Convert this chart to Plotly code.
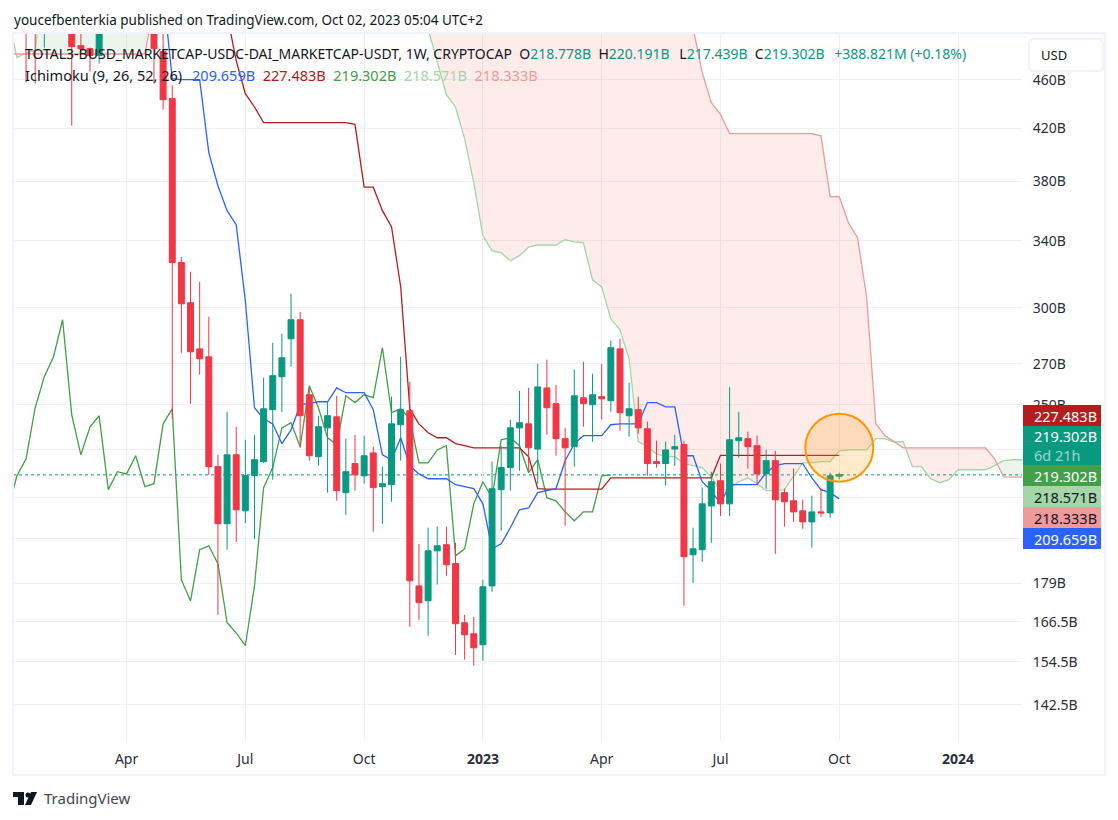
import pandas as pd
import numpy as np
import plotly.graph_objects as go

# weekly bars, 92 on the chart + 25 more for the shifted cloud
weeks = pd.date_range("2022-01-03", periods=117, freq="7D")

opens = [560,545,545,520,510,535,590,560,490.2,487.5,
         481.2,520,590,620,600,570,530,484.8,443.9,326.5,
         302.8,277.7,273.6,222.7,200.1,227.7,205,219,224.8,247.8,
         263.6,283,293.3,254.8,226.9,239.5,244.5,212.1,224,218.9,
         228.5,214.5,215.3,240.9,247.3,178.1,173.2,190.2,192.4,185.7,
         166.2,162.8,159.5,178.1,213.3,222.3,239.5,241.3,230.2,258.1,
         250.6,234.7,231.2,253.4,250.1,253.9,252,277.7,245,247.8,
         239.1,224.8,224,230.2,232.1,188.8,190.6,206.9,216.9,207.7,
         233.8,234.7,231.6,219.7,225.2,212.1,208.9,205,200.8,204.6,
         204.2,218.778]
highs = [600,580,560,560,550,600,605,570,530,488.4,
         540,600,640,650,620,590,550,510,454.9,329.8,
         320.9,314.9,294.9,227.7,246.8,240,234.2,236.4,263.1,280.9,
         285.7,308,297.7,258.1,245,251.5,254.3,234.7,236.4,236,
         231.2,222.7,253.9,273.6,261.1,192.7,198.6,199,199,193.1,
         168.7,168.1,180.1,224.8,231.6,243.2,256.7,258.1,270.1,272.1,
         259.6,239.5,267.1,271.1,265.1,270.1,282,283,260.6,253.9,
         242.3,233.8,233.4,236.4,233.8,198.6,214.1,220.6,224,258.6,
         246.8,237.8,236,229.8,229.4,213.7,221.9,209.3,210.9,214.1,
         220.2,220.191]
lows = [530,530,457.4,456.5,488.4,525,540,422,483.9,466.9,
        474,510,570,580,560,520,456.5,434.8,243.6,275.7,
        250.6,264.6,219.3,168.7,190.6,193.4,200.4,194.5,224.3,217.3,
        246.8,268.6,230.7,225.2,223.1,212.1,208.9,203.5,212.9,215.7,
        197.1,200.1,208.5,225.2,164.9,167.1,162.2,178.5,181.5,156.5,
        155.1,153.3,154.8,176.2,197.5,212.9,221,221,215.7,236.4,
        227.3,199.3,222.7,240,233.4,243.2,246.8,238.2,235.5,236.8,
        218.9,222.3,214.9,223.1,171.6,179.1,186.3,193.1,203,203,
        226.5,221.9,215.7,213.7,189.1,199,200.8,198.2,191.3,202.7,
        202.3,217.439]
closes = [545,548,520,505,535,590,560,489.3,487.5,481.2,
          520,590,620,600,570,530,487.5,443,326.5,302.2,
          276.2,272.6,222.7,200.1,227.7,205.4,219,225.6,248.2,264.1,
          273.1,293.3,245,227.3,240,245,212.9,220.6,219.3,227.3,
          214.1,215.7,241.3,247.8,179.8,172.6,190.2,192,185.3,165.9,
          162.5,158.6,177.8,213.7,222.3,239.5,241.8,230.7,258.6,248.7,
          234.7,230.7,254.3,250.6,254.8,252.9,278.3,246.4,248.2,239.5,
          224,224,229.8,231.2,188.1,190.9,207.7,216.5,207.7,234.2,
          235.1,231.2,219.7,225.2,209.3,208.5,204.6,200.8,204.6,204.2,
          218.9,219.302]

# ichimoku lines, None = not on screen
conversion = [None]*17 + [543,460.9,460,460,460,401.2,377,359.8,350.5,303.9,
              248.7,243.6,241.3,232.5,238.6,250,250.6,251.5,251.5,258.1,
              255.8,255.8,255.8,247.8,227.7,225.6,235.1,223.1,219.7,217.7,
              217.7,217.7,215.3,214.5,213.7,207.7,190.9,192.7,198.6,205.4,
              206.1,212.1,212.9,213.7,225.2,232.5,236,236,236,240.9,
              241.3,241.3,241.3,251.1,251.1,249.1,249.1,227.3,227.3,216.5,
              212.9,207.7,215.3,215.3,215.3,215.3,220.2,223.1,224,224,
              224,218.1,213.3,212.1,209.659]
base = [None]*23 + [560,519.6,476.7,448,437,424.4,424.4,424.4,424.4,424.4,
        424.4,424.4,424.4,424.4,424.4,423,376,376,359.8,349,
        312,248.2,241.3,237.3,235.1,235.1,232.5,231.6,230.7,230.7,
        230.7,230.7,230.7,230.7,226.9,213.7,213.5,213.5,213.5,213.5,
        213.5,213.5,213.5,218.1,218.1,218.1,218.1,218.1,218.1,218.1,
        218.1,218.1,218.1,218.1,218.1,227.483,227.483,227.483,227.483,227.483,
        227.483,227.483,227.483,227.483,227.483,227.483,227.483,227.483,227.483]
lagging = [205,218.9,226,248.7,263.6,273.6,293.3,245.4,227.7,240,
           245,213.3,220.6,219.7,227.3,214.5,215.7,241.3,248.2,180.1,
           173.2,190.6,192,185.7,166.2,163.1,159.2,178.1,214.1,222.3,
           239.5,241.8,231.2,259.1,248.7,235.1,232.1,254.3,251.1,254.8,
           253.4,278.3,246.4,248.2,243.6,224.3,224.3,229.8,231.6,188.4,
           190.9,207.7,216.5,210.1,234.2,235.1,231.6,220.2,225.6,210.1,
           208.9,204.6,201.2,204.6,204.6,218.9,219.302] + [None]*25
# spans run 25 bars past the last candle, the part above the top is only a guess
span_a = [520,479.4,483.5,486.2,560,620,660,680,700,720,
          740,760,780,800,820,840,860,860,850,840,
          830,820,810,800,790,780,770,760,750,740,
          730,720,710,700,690,680,670,660,650,640,
          630,620,610,600,580,548,506,475.8,447.2,437,
          411.9,379.2,343.3,333.8,332.5,327.6,330.7,336,337.4,337.4,
          337.4,340.7,339.4,338.8,316.1,311.8,293.8,287.8,272.6,233.4,
          231.2,228.1,226.9,226.9,224,223.1,222.3,218.5,212.9,213.7,
          216.5,218.1,215.7,212.9,212.9,213.3,218.9,224.3,224.3,224.8,
          224.8,229.4,229.8,229.8,229.8,234.7,234.7,233.2,233.4,222.7,
          222.7,217.7,216.1,217.3,221.4,221.4,221.4,221.4,223.1,225.2,
          225.6,225.6,225.6,225,222,220,218.571]
span_b = [482.6,482.6,482.6,482.6,482.6,482.6,482.6,482.6,482.6,482.6,
          482.6,482.6,482.6,482.6,482.6,482.6,528,600,700,800,
          900,900,900,900,900,900,900,900,900,900,
          900,900,900,900,900,900,900,900,900,900,
          900,900,900,900,900,900,900,900,900,900,
          900,900,900,900,900,900,900,900,900,900,
          900,900,900,900,900,900,900,900,900,900,
          900,720,650,600,555,507,466,440.6,431,415.7,
          415.7,415.7,415.7,415.7,415.7,415.7,415.7,415.7,415.7,414,
          369.4,369.4,351.8,342.1,305.8,241.3,236,233.4,230.7,230.7,
          230.7,230.7,230.7,230.7,230.7,230.7,230.7,230.7,226,218.5,
          218.333,218.333,218.333,218.333,218.333,218.333,218.333]

price_ticks = [142.5,154.5,166.5,179,194.5,210,230,250,270,300,340,380,420,460]
price_labels = ["142.5B","154.5B","166.5B","179B","","","","250B","270B","300B","340B","380B","420B","460B"]
time_ticks = ["2022-04-04","2022-07-04","2022-10-03","2023-01-02","2023-04-03","2023-07-03","2023-10-02","2024-01-01"]
time_labels = ["Apr","Jul","Oct","<b>2023</b>","Apr","Jul","Oct","<b>2024</b>"]

tag_labels = ["227.483B","219.302B<br><span style='color:rgba(255,255,255,0.6)'>6d 21h</span>","219.302B","218.571B","218.333B","209.659B"]
tag_colors = ["#B71C1C","#089981","#43A047","#A5D6A7","#EF9A9A","#2962FF"]
tag_text = ["white","white","white","#131722","#131722","white"]
tag_edges = [405,426,465,486,507,528,549]

FONT = "Noto Sans"
UP = "#089981"
DOWN = "#F23645"
GRID = "#EFF0F3"
dark = "#131722"

# plot box in page pixels
left, right, top, bottom = 13, 1022, 34, 741

def px(x):
    return (x-left)/(right-left)

def py(y):
    return (bottom-y)/(bottom-top)


fig = go.Figure()

# cloud, one polygon for each stretch where the same span is on top
def add_cloud(xs, upper, lower, colour):
    fig.add_trace(go.Scatter(x=xs+xs[::-1], y=upper+lower[::-1], mode="lines", fill="toself",
                             fillcolor=colour, line=dict(width=0), hoverinfo="skip", showlegend=False))

xs, ups, los = [weeks[0]], [span_a[0]], [span_b[0]]
for i in range(1, len(weeks)):
    d0 = np.log10(span_a[i-1])-np.log10(span_b[i-1])
    d1 = np.log10(span_a[i])-np.log10(span_b[i])
    if d0*d1 < 0:
        t = d0/(d0-d1)
        xc = weeks[i-1]+(weeks[i]-weeks[i-1])*t
        yc = 10**(np.log10(span_a[i-1])+(np.log10(span_a[i])-np.log10(span_a[i-1]))*t)
        add_cloud(xs+[xc], ups+[yc], los+[yc], "rgba(67,160,71,0.1)" if d0 > 0 else "rgba(244,67,54,0.1)")
        xs, ups, los = [xc], [yc], [yc]
    xs.append(weeks[i])
    ups.append(span_a[i])
    los.append(span_b[i])
add_cloud(xs, ups, los, "rgba(67,160,71,0.1)" if span_a[-1] > span_b[-1] else "rgba(244,67,54,0.1)")

for vals, col in [(span_a,"#A5D6A7"),(span_b,"#EF9A9A"),(lagging,"#43A047"),(base,"#B71C1C"),(conversion,"#2962FF")]:
    fig.add_trace(go.Scatter(x=weeks, y=vals, mode="lines", line=dict(color=col, width=1.3),
                             connectgaps=False, hoverinfo="skip", showlegend=False))

fig.add_trace(go.Candlestick(x=weeks[:92], open=opens, high=highs, low=lows, close=closes,
                             increasing=dict(line=dict(color=UP, width=1), fillcolor=UP),
                             decreasing=dict(line=dict(color=DOWN, width=1), fillcolor=DOWN),
                             whiskerwidth=0, showlegend=False, zorder=1))

fig.update_layout(width=1118, height=820, margin=dict(l=left, r=1118-right, t=top, b=820-bottom),
                  paper_bgcolor="white", plot_bgcolor="white", showlegend=False, hovermode=False,
                  boxgap=0.35, boxgroupgap=0,
                  font=dict(family=FONT, size=13, color=dark))
fig.update_xaxes(type="date", range=["2022-01-07","2024-02-19"], rangeslider_visible=False,
                 tickmode="array", tickvals=time_ticks, ticktext=time_labels, tickangle=0,
                 showgrid=True, gridcolor=GRID, gridwidth=1, zeroline=False, showline=False,
                 ticks="outside", ticklen=5, tickcolor="rgba(0,0,0,0)", tickfont=dict(size=14, color="#2A2E39"))
fig.update_yaxes(type="log", side="right", range=[np.log10(133.17), np.log10(501.05)],
                 tickmode="array", tickvals=price_ticks, ticktext=price_labels,
                 showgrid=True, gridcolor=GRID, gridwidth=1, zeroline=False, showline=False,
                 ticks="outside", ticklen=7, tickcolor="rgba(0,0,0,0)", tickfont=dict(size=14, color="#2A2E39"))

# last price line
fig.add_hline(y=closes[-1], line=dict(color=UP, width=1, dash="dot"), layer="below")

shapes = []
# marker circle around the last bar
shapes.append(dict(type="circle", xref="x", yref="y", xsizemode="pixel", xanchor=weeks[91], x0=-34, x1=34,
                   y0=216.5, y1=245.9,
                   line=dict(color="#FF9800", width=2), fillcolor="rgba(255,152,0,0.2)", layer="above"))
# outer frame of the widget
shapes.append(dict(type="rect", xref="paper", yref="paper", x0=px(13), x1=px(1105), y0=py(775), y1=py(33),
                   line=dict(color="#F0F3FA", width=2), layer="above"))

# USD button, rounded corners
bx0, bx1, by0, by1, r = 1029, 1103, 39, 71, 5
shapes.append(dict(type="path", xref="paper", yref="paper", layer="above",
                   line=dict(color="#F0F3FA", width=2), fillcolor="white",
                   path=(f"M{px(bx0+r)},{py(by0)} L{px(bx1-r)},{py(by0)} Q{px(bx1)},{py(by0)} {px(bx1)},{py(by0+r)} "
                         f"L{px(bx1)},{py(by1-r)} Q{px(bx1)},{py(by1)} {px(bx1-r)},{py(by1)} "
                         f"L{px(bx0+r)},{py(by1)} Q{px(bx0)},{py(by1)} {px(bx0)},{py(by1-r)} "
                         f"L{px(bx0)},{py(by0+r)} Q{px(bx0)},{py(by0)} {px(bx0+r)},{py(by0)} Z")))

# price tags
for i, col in enumerate(tag_colors):
    shapes.append(dict(type="rect", xref="paper", yref="paper", x0=px(1023), x1=px(1101),
                       y0=py(tag_edges[i+1]), y1=py(tag_edges[i]), fillcolor=col, line=dict(width=0), layer="above"))

# tradingview logo
def poly(points):
    return "M" + " L".join(f"{px(a)},{py(b)}" for a, b in points) + " Z"

for pts in [[(13,792),(24,792),(24,805),(18,805),(18,797),(13,797)],
            [(31,792),(37,792),(31,805),(25,805)]]:
    shapes.append(dict(type="path", xref="paper", yref="paper", path=poly(pts), fillcolor=dark, line=dict(width=0)))
shapes.append(dict(type="circle", xref="paper", yref="paper", x0=px(25.5), x1=px(30.5), y0=py(797.5), y1=py(792.5),
                   fillcolor=dark, line=dict(width=0)))
for s in shapes:
    fig.add_shape(**s)

def note(x, y, text, size=14, color=dark, anchor="left"):
    fig.add_annotation(xref="paper", yref="paper", x=px(x), y=py(y), text=text, showarrow=False,
                       xanchor=anchor, yanchor="middle", align="left", borderpad=0,
                       font=dict(family=FONT, size=size, color=color))

def val(s, colour=UP):
    return f"<span style='color:{colour}'>{s}</span>"

sp = "\u00a0\u00a0"
thin = "\u2009"
note(13, 20, "youcefbenterkia published on TradingView.com, Oct 02, 2023 05:04 UTC+2", size=13.5)
note(24, 54, "TOTAL3-BUSD_MARKETCAP-USDC-DAI_MARKETCAP-USDT, 1W, CRYPTOCAP" + sp
     + "O" + val("218.778B") + sp + "H" + val("220.191B") + sp + thin + "L" + val("217.439B") + sp
     + "C" + val("219.302B") + sp + thin + val("+388.821M (+0.18%)"))
note(24, 75, "Ichimoku (9, 26, 52, 26)" + sp + thin + val("209.659B","#2962FF") + sp + val("227.483B","#B71C1C") + sp
     + val("219.302B","#43A047") + sp + val("218.571B","#A5D6A7") + sp + val("218.333B","#EF9A9A"), size=14.5)
note(1040, 55, "USD", size=13)
note(43, 798, "TradingView", size=15, color="#434651")

for i, lab in enumerate(tag_labels):
    note(1033, (tag_edges[i]+tag_edges[i+1])/2, lab, size=14.5, color=tag_text[i])

fig.write_html("out.html", config={"displayModeBar": False}, post_script="document.body.style.margin='0';")
